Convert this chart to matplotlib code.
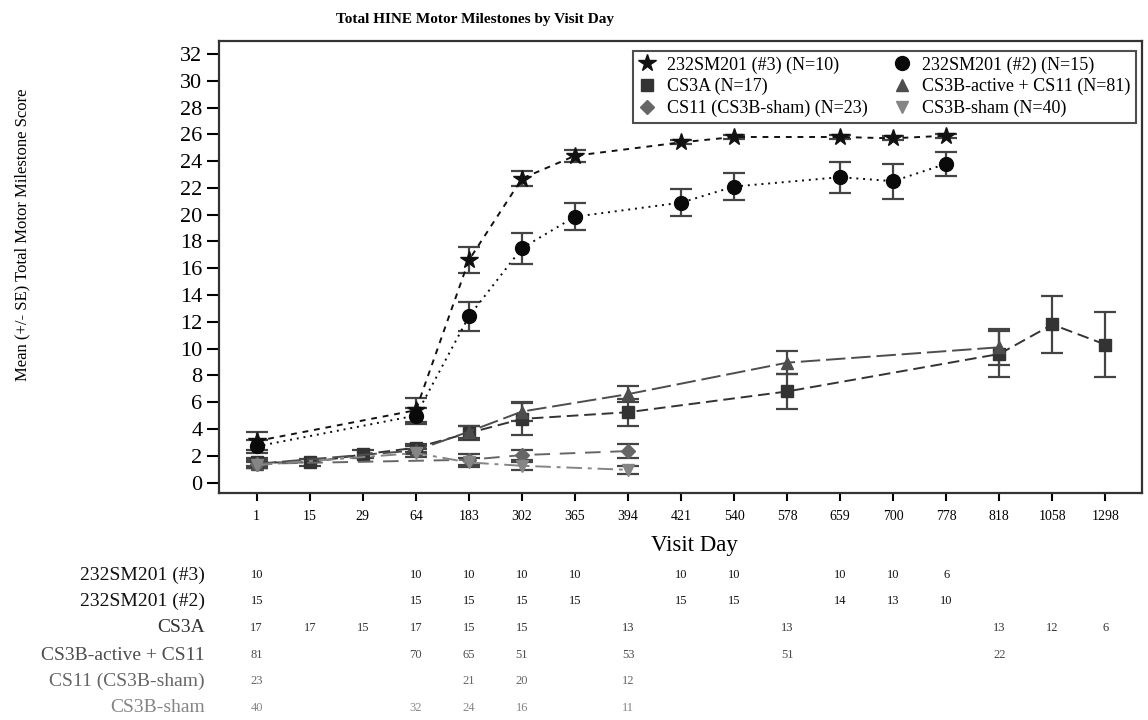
import numpy as np
import matplotlib
matplotlib.use("Agg")
import matplotlib.pyplot as plt
from matplotlib.transforms import blended_transform_factory

plt.rcParams['font.family'] = ['Liberation Serif', 'DejaVu Serif']

# visit days (categorical x axis)
days = ['1', '15', '29', '64', '183', '302', '365', '394', '421', '540',
        '578', '659', '700', '778', '818', '1058', '1298']

# 232SM201 (#3)
sm3_day = ['1', '64', '183', '302', '365', '421', '540', '659', '700', '778']
sm3_mean = [3.1, 5.4, 16.6, 22.7, 24.4, 25.4, 25.8, 25.8, 25.7, 25.9]
sm3_se = [0.7, 0.9, 0.95, 0.55, 0.45, 0.15, 0.15, 0.15, 0.15, 0.15]
sm3_n = [10, 10, 10, 10, 10, 10, 10, 10, 10, 6]

# 232SM201 (#2)
sm2_day = ['1', '64', '183', '302', '365', '421', '540', '659', '700', '778']
sm2_mean = [2.7, 5.0, 12.4, 17.5, 19.85, 20.9, 22.1, 22.8, 22.5, 23.8]
sm2_se = [0.5, 0.6, 1.1, 1.15, 1.0, 0.98, 1.03, 1.15, 1.3, 0.9]
sm2_n = [15, 15, 15, 15, 15, 15, 15, 14, 13, 10]

# CS3A
cs3a_day = ['1', '15', '29', '64', '183', '302', '394', '578', '818', '1058', '1298']
cs3a_mean = [1.5, 1.5, 2.1, 2.6, 3.7, 4.75, 5.25, 6.8, 9.6, 11.8, 10.3]
cs3a_se = [0.3, 0.25, 0.3, 0.3, 0.5, 1.2, 1.0, 1.3, 1.7, 2.1, 2.4]
cs3a_n = [17, 17, 15, 17, 15, 15, 13, 13, 13, 12, 6]

# CS3B-active + CS11
act_day = ['1', '64', '183', '302', '394', '578', '818']
act_mean = [1.4, 2.4, 3.8, 5.3, 6.6, 8.95, 10.1]
act_se = [0.3, 0.3, 0.45, 0.7, 0.6, 0.85, 1.35]
act_n = [81, 70, 65, 51, 53, 51, 22]

# CS11 (CS3B-sham)
cs11_day = ['1', '183', '302', '394']
cs11_mean = [1.4, 1.7, 2.05, 2.35]
cs11_se = [0.3, 0.4, 0.4, 0.5]
cs11_n = [23, 21, 20, 12]

# CS3B-sham
sham_day = ['1', '64', '183', '302', '394']
sham_mean = [1.3, 2.2, 1.5, 1.25, 0.95]
sham_se = [0.2, 0.3, 0.35, 0.3, 0.3]
sham_n = [40, 32, 24, 16, 11]

series = [
    ('232SM201 (#3)', 10, sm3_day, sm3_mean, sm3_se, sm3_n, '*', '#111111', (0, (3, 3)), 13),
    ('232SM201 (#2)', 15, sm2_day, sm2_mean, sm2_se, sm2_n, 'o', '#0a0a0a', (0, (1, 2.5)), 10),
    ('CS3A', 17, cs3a_day, cs3a_mean, cs3a_se, cs3a_n, 's', '#333333', (0, (6, 3)), 9),
    ('CS3B-active + CS11', 81, act_day, act_mean, act_se, act_n, '^', '#4d4d4d', (0, (10, 3)), 9),
    ('CS11 (CS3B-sham)', 23, cs11_day, cs11_mean, cs11_se, cs11_n, 'D', '#666666', (0, (8, 5)), 7.5),
    ('CS3B-sham', 40, sham_day, sham_mean, sham_se, sham_n, 'v', '#858585', (0, (8, 3, 2, 3)), 9),
]
row_colors = ['#111111', '#111111', '#333333', '#4d4d4d', '#666666', '#858585']

fig = plt.figure(figsize=(11.48, 7.2), dpi=100)
ax = fig.add_axes([0.1908, 0.3153, 0.8040, 0.6278])

pos = {d: i for i, d in enumerate(days)}
handles = []
for name, ntot, dd, mm, se, nn, mk, col, ls, ms in series:
    x = [pos[d] for d in dd]
    ax.errorbar(x, mm, yerr=se, fmt='none', ecolor='#444444', elinewidth=1.6,
                capsize=8, capthick=1.6, zorder=2)
    h, = ax.plot(x, mm, linestyle=ls, color=col, linewidth=1.4, marker=mk,
                 markersize=ms, markerfacecolor=col, markeredgecolor=col, zorder=3,
                 label=f'{name} (N={ntot})')
    handles.append(h)

ax.set_xlim(-0.71, 16.69)
ax.set_ylim(-0.78, 32.97)
ax.set_xticks(range(len(days)))
ax.set_xticklabels(days, fontsize=10)
ax.set_yticks(range(0, 33, 2))
ax.tick_params(axis='y', labelsize=16, length=9, width=1.5, direction='out', pad=3)
ax.tick_params(axis='x', length=6, width=1.5, direction='out', pad=6)
for s in ax.spines.values():
    s.set_linewidth(1.6)
    s.set_color('#333333')

order = [0, 2, 4, 1, 3, 5]
leg = ax.legend([handles[i] for i in order],
                [handles[i].get_label() for i in order],
                ncol=2, loc='upper right', bbox_to_anchor=(0.9935, 0.978),
                fontsize=13, frameon=True, fancybox=False, handlelength=1.0,
                handletextpad=0.6, columnspacing=1.4, labelspacing=0.25,
                borderpad=0.3, borderaxespad=0)
leg.get_frame().set_edgecolor('#222222')
leg.get_frame().set_linewidth(1.5)
for lh in leg.legend_handles:
    lh.set_linestyle('none')

fig.text(475 / 1148, 1 - 20 / 720, 'Total HINE Motor Milestones by Visit Day',
         ha='center', va='center', fontsize=11, fontweight='bold')
fig.text(22 / 1148, 1 - 235 / 720, 'Mean (+/- SE) Total Motor Milestone Score',
         rotation=90, ha='center', va='center', fontsize=12)
fig.text(694 / 1148, 1 - 546 / 720, 'Visit Day', ha='center', va='center', fontsize=16.5)

# number-at-risk table under the axis
tr = blended_transform_factory(ax.transData, fig.transFigure)
row_y = [575, 601.5, 628, 655, 681, 708]
for k, (name, ntot, dd, mm, se, nn, mk, col, ls, ms) in enumerate(series):
    yf = 1 - row_y[k] / 720
    fig.text(205 / 1148, yf, name, ha='right', va='center', fontsize=14,
             color=row_colors[k])
    for d, n in zip(dd, nn):
        ax.text(pos[d], yf, str(n), transform=tr, ha='center', va='center',
                fontsize=9, color=row_colors[k])

fig.savefig('out.png', dpi=100)
